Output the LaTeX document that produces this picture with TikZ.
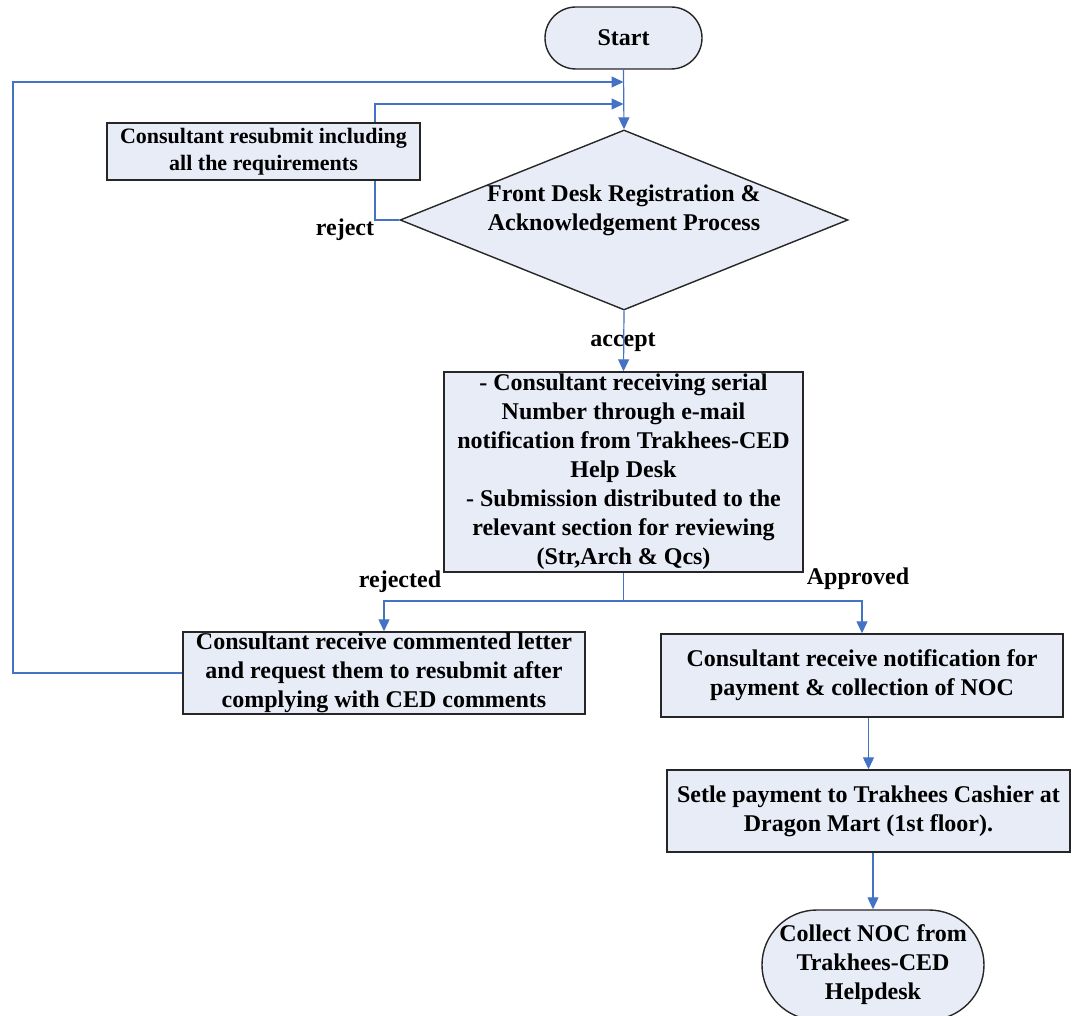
\documentclass[tikz,border=0pt]{standalone}
\usepackage{fontspec}
\setmainfont{Liberation Serif}
\usepackage{tikz}
\usetikzlibrary{arrows.meta,shapes.geometric,shapes.misc,positioning}
\definecolor{flowblue}{RGB}{68,114,196}
\definecolor{boxfill}{RGB}{231,236,247}
\definecolor{boxline}{RGB}{38,38,38}

\begin{document}
\begin{tikzpicture}[x=0.5pt,y=-0.5pt,
  every node/.style={font=\fontsize{12}{14.5}\selectfont\bfseries, align=center, inner sep=0pt},
  stepbox/.style={draw=boxline, fill=boxfill, line width=0.7pt, rectangle},
  terminal/.style={draw=boxline, fill=boxfill, line width=0.7pt, rounded rectangle},
  decision/.style={draw=boxline, fill=boxfill, line width=0.7pt, diamond, minimum width=224pt, minimum height=90pt},
  conn/.style={draw=flowblue, line width=0.6pt, -{Triangle[width=5.5pt,length=6pt]}},
  plainline/.style={draw=flowblue, line width=0.6pt}]
\useasboundingbox (0,0) rectangle (1084,1016);
\clip (0,0) rectangle (1084,1016);

\node[terminal, minimum width=78.5pt, minimum height=31pt] (start) at (623.5,38) {Start};
\node[decision] (reg) at (624,220) {};
\node (regtext) at (624,210) {Front Desk Registration \&\\Acknowledgement Process};
\node[stepbox, minimum width=156.5pt, minimum height=28.5pt, font=\fontsize{11}{13.5}\selectfont\bfseries] (resub) at (263.5,151.5) {Consultant resubmit including\\all the requirements};
\node[stepbox, minimum width=179.5pt, minimum height=100pt] (review) at (623.5,472) {- Consultant receiving serial\\Number through e-mail\\notification from Trakhees-CED\\Help Desk\\- Submission distributed to the\\relevant section for reviewing\\(Str,Arch \& Qcs)};
\node[stepbox, minimum width=201pt, minimum height=41pt] (rejbox) at (384,673) {Consultant receive commented letter\\and request them to resubmit after\\complying with CED comments};
\node[stepbox, minimum width=201pt, minimum height=41.5pt] (apprbox) at (862,675.5) {Consultant receive notification for\\payment \& collection of NOC};
\node[stepbox, minimum width=201.5pt, minimum height=41pt] (settle) at (868.5,811) {Setle payment to Trakhees Cashier at\\Dragon Mart (1st floor).};
\node[terminal, minimum width=110pt, minimum height=55pt] (collect) at (873,965) {Collect NOC from\\Trakhees-CED\\Helpdesk};

\node (rejectlbl) at (345,230) {reject};
\node (acceptlbl) at (623,342) {accept};
\node (rejectedlbl) at (400,582) {rejected};
\node (approvedlbl) at (858,579) {Approved};

\coordinate (merge1) at (623.5,82);
\coordinate (merge2) at (623.5,104);
\coordinate (loopleft) at (13,82);
\coordinate (rjturn) at (375,104);
\coordinate (split) at (623.5,601);

\draw[conn] (start.south) -- (reg.north);
\draw[conn] (rejbox.west) -| (loopleft) -- (merge1);
\draw[plainline] (reg.west) -| (resub.south -| rjturn);
\draw[conn] (resub.north -| rjturn) -- (rjturn) -- (merge2);
\draw[conn] (reg.south) -- (review.north);
\draw[plainline] (review.south) -- (split);
\draw[conn] (split) -| (rejbox.north);
\draw[conn] (split) -| (apprbox.north);
\draw[conn] (apprbox.south -| settle.north) -- (settle.north);
\draw[conn] (settle.south -| collect.north) -- (collect.north);
\end{tikzpicture}
\end{document}
